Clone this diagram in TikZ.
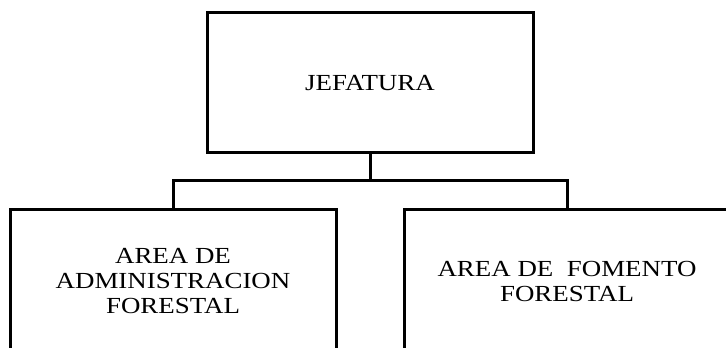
\documentclass[tikz,border=0pt]{standalone}
\usepackage{fontspec}
\setmainfont{Liberation Serif}[FakeStretch=1.17]
\usepackage{tikz}

\begin{document}
\begin{tikzpicture}[x=1pt, y=1pt, line width=3pt,
    every node/.style={rectangle, draw, line width=3pt, minimum width=326pt, align=center, font=\fontsize{23}{25}\selectfont}]
     \useasboundingbox (0,0) rectangle (726,348);
     \node[minimum height=140pt] (J) at (370, 265) {JEFATURA};
     \node[minimum height=142pt] (A) at (173, 67) {AREA DE\\ADMINISTRACION\\FORESTAL};
     \node[minimum height=142pt] (F) at (567, 67) {AREA DE~~FOMENTO\\FORESTAL};
     \coordinate (bar) at (370, 167);

     \draw (J) -- (bar);
     \draw (A) |- (bar);
     \draw (bar) -| (F);
\end{tikzpicture}
\end{document}
